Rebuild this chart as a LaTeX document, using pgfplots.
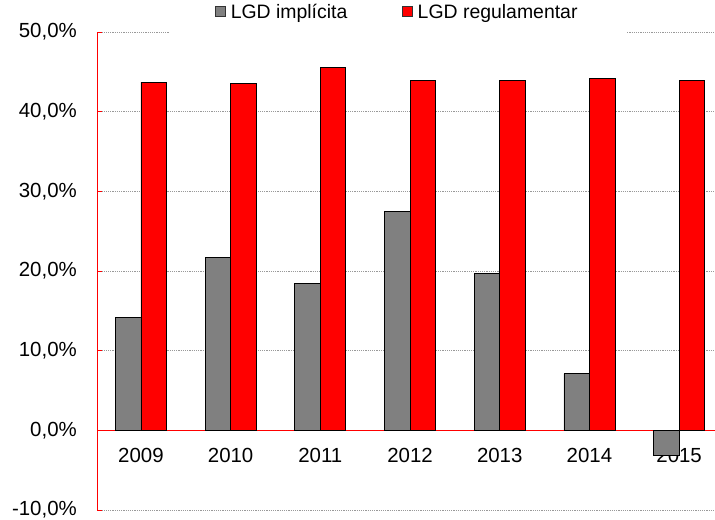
\documentclass[border=0pt]{standalone}
\usepackage{fontspec}
\setmainfont{Liberation Sans}
\usepackage{pgfplots}
\pgfplotsset{compat=1.18}
\begin{document}
\begin{tikzpicture}
\useasboundingbox (0bp,0bp) rectangle (715bp,520bp);
\begin{axis}[
  at={(97bp,10bp)}, anchor=south west,
  scale only axis, width=618bp, height=478bp,
  xmin=-0.49, xmax=6.4, ymin=-10, ymax=50,
  axis x line*=middle, axis y line*=left,
  hide obscured x ticks=false, hide obscured y ticks=false,
  axis line style={red, line width=0.8bp},
  ybar=0pt, bar width=25.5bp,
  ytick={-10,0,10,20,30,40,50},
  yticklabels={{-10,0\%},{0,0\%},{10,0\%},{20,0\%},{30,0\%},{40,0\%},{50,0\%}},
  xtick={0,1,2,3,4,5,6},
  xticklabels={2009,2010,2011,2012,2013,2014,2015},
  tick label style={font=\fontsize{20.5}{24}\selectfont, inner sep=0pt},
  yticklabel style={anchor=east, xshift=-20bp},
  xticklabel style={anchor=north, yshift=-18bp},
  xtick style={draw=none},
  ytick style={red, line width=0.8bp},
  tick align=inside, major tick length=5bp,
  ymajorgrids,
  grid style={black!40, line width=0.8bp, dash pattern=on 1.2bp off 1bp},
  legend columns=2,
  legend style={at={(rel axis cs:0.4862,1.042)}, anchor=center, fill=white, draw=none,
    inner xsep=46bp, inner ysep=18bp,
    font=\fontsize{19.5}{23}\selectfont,
    nodes={inner xsep=2.5bp, inner ysep=1bp},
    /tikz/every even column/.append style={column sep=52bp}},
  legend cell align=left,
  legend image code/.code={\draw[#1, draw=black!80, line width=0.7bp] (0bp,-4bp) rectangle (10bp,6bp);
    \path[draw=none, fill=none] (0bp,0bp) -- (13bp,0bp);},
]
\addplot[fill=black!50, draw=black, line width=0.75bp] coordinates
  {(0,14.2) (1,21.7) (2,18.4) (3,27.5) (4,19.7) (5,7.1) (6,-3.1)};
\addplot[fill=red, draw=black, line width=0.75bp] coordinates
  {(0,43.7) (1,43.5) (2,45.6) (3,43.9) (4,43.9) (5,44.2) (6,43.9)};
\legend{LGD implícita, LGD regulamentar}
\end{axis}
\end{tikzpicture}
\end{document}
